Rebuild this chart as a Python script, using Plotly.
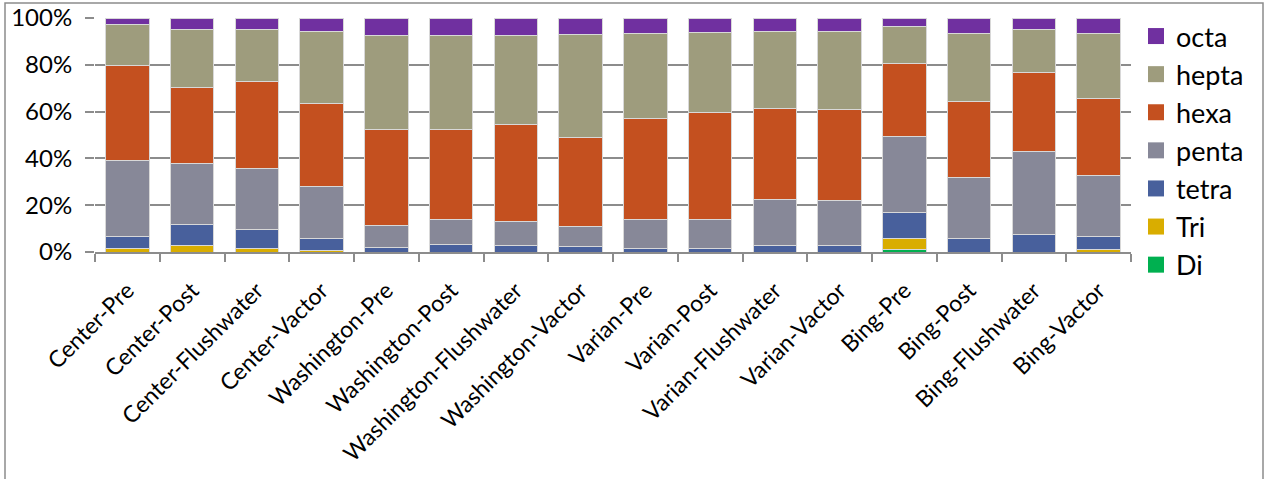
import plotly.graph_objects as go

categories = ["Center-Pre", "Center-Post", "Center-Flushwater", "Center-Vactor",
              "Washington-Pre", "Washington-Post", "Washington-Flushwater", "Washington-Vactor",
              "Varian-Pre", "Varian-Post", "Varian-Flushwater", "Varian-Vactor",
              "Bing-Pre", "Bing-Post", "Bing-Flushwater", "Bing-Vactor"]

di    = [0, 0, 0, 0, 0, 0, 0, 0, 0, 0, 0, 0, 1.0, 0, 0, 0]
tri   = [1.4, 2.7, 1.4, 0.6, 0, 0, 0, 0, 0, 0, 0, 0, 4.7, 0, 0, 1.1]
tetra = [5.3, 9.1, 8.3, 5.2, 2.0, 3.1, 2.7, 2.3, 1.6, 1.6, 2.8, 2.7, 11.3, 5.8, 7.5, 5.5]
penta = [32.5, 25.9, 25.8, 22.3, 9.5, 10.7, 10.3, 8.5, 12.5, 12.1, 19.8, 19.1, 32.3, 26.0, 35.4, 25.9]
hexa  = [40.7, 32.7, 37.4, 35.3, 40.9, 38.6, 41.4, 38.2, 42.9, 45.8, 38.8, 39.3, 31.2, 32.6, 33.9, 33.0]
hepta = [17.3, 24.6, 22.1, 30.8, 40.3, 40.1, 38.1, 43.9, 36.4, 34.2, 32.9, 33.1, 15.8, 28.9, 18.2, 27.8]
octa  = [2.8, 5.0, 5.0, 5.8, 7.3, 7.5, 7.5, 7.1, 6.6, 6.3, 5.7, 5.8, 3.7, 6.7, 5.0, 6.7]

y_ticks = [0, 20, 40, 60, 80, 100]
y_labels = ["0%", "20%", "40%", "60%", "80%", "100%"]

series = [("Di", di, "#00B050"), ("Tri", tri, "#D9AD00"), ("tetra", tetra, "#48609C"),
          ("penta", penta, "#878898"), ("hexa", hexa, "#C4501F"), ("hepta", hepta, "#9E9C7D"),
          ("octa", octa, "#7030A0")]

fig = go.Figure()
for name, vals, col in series:
    fig.add_trace(go.Bar(x=categories, y=vals, name=name, legendgroup=name, showlegend=False,
                         marker=dict(color=col, line=dict(color="#D8D8D8", width=1))))
    # legend entry with a larger square swatch
    fig.add_trace(go.Scatter(x=[None], y=[None], mode="markers", name=name, legendgroup=name,
                             marker=dict(symbol="square", size=17, color=col), hoverinfo="skip"))

W, H = 1267, 479
L, R, T, B = 95, 136, 18, 227
pw, ph = W - L - R, H - T - B
def px(x): return (x - L) / pw
def py(y): return (H - B - y) / ph

fig.update_layout(
    width=W, height=H, barmode="stack", barnorm="percent", bargap=0.33,
    margin=dict(l=L, r=R, t=T, b=B, autoexpand=False),
    plot_bgcolor="white", paper_bgcolor="white",
    font=dict(family="Lato, Open Sans, sans-serif", size=22, color="black"),
    legend=dict(traceorder="reversed", x=px(1136), xanchor="left", y=py(12), yanchor="top",
                tracegroupgap=1, font=dict(size=27), itemwidth=30, maxheight=470),
    showlegend=True,
    xaxis=dict(tickangle=-45, showline=True, linecolor="#8C8C8C", linewidth=2,
               ticks="outside", tickson="boundaries", ticklen=8, tickcolor="#8C8C8C", tickwidth=1.5,
               showgrid=False, tickfont=dict(size=23), ticklabelstandoff=14, automargin=False),
    yaxis=dict(range=[0, 100], tickmode="array", tickvals=y_ticks, ticktext=y_labels,
               showgrid=True, gridcolor="#8C8C8C", gridwidth=2, ticks="outside", ticklen=9,
               tickcolor="#8C8C8C", tickwidth=2, showline=False, zeroline=False,
               tickfont=dict(size=24), ticklabelstandoff=8, automargin=False),
)
fig.add_shape(type="rect", xref="paper", yref="paper",
              x0=px(5), x1=px(1263), y0=py(3), y1=py(490),
              line=dict(color="#8C8C8C", width=1.5), fillcolor="rgba(0,0,0,0)", layer="below")

fig.write_html("out.html")
